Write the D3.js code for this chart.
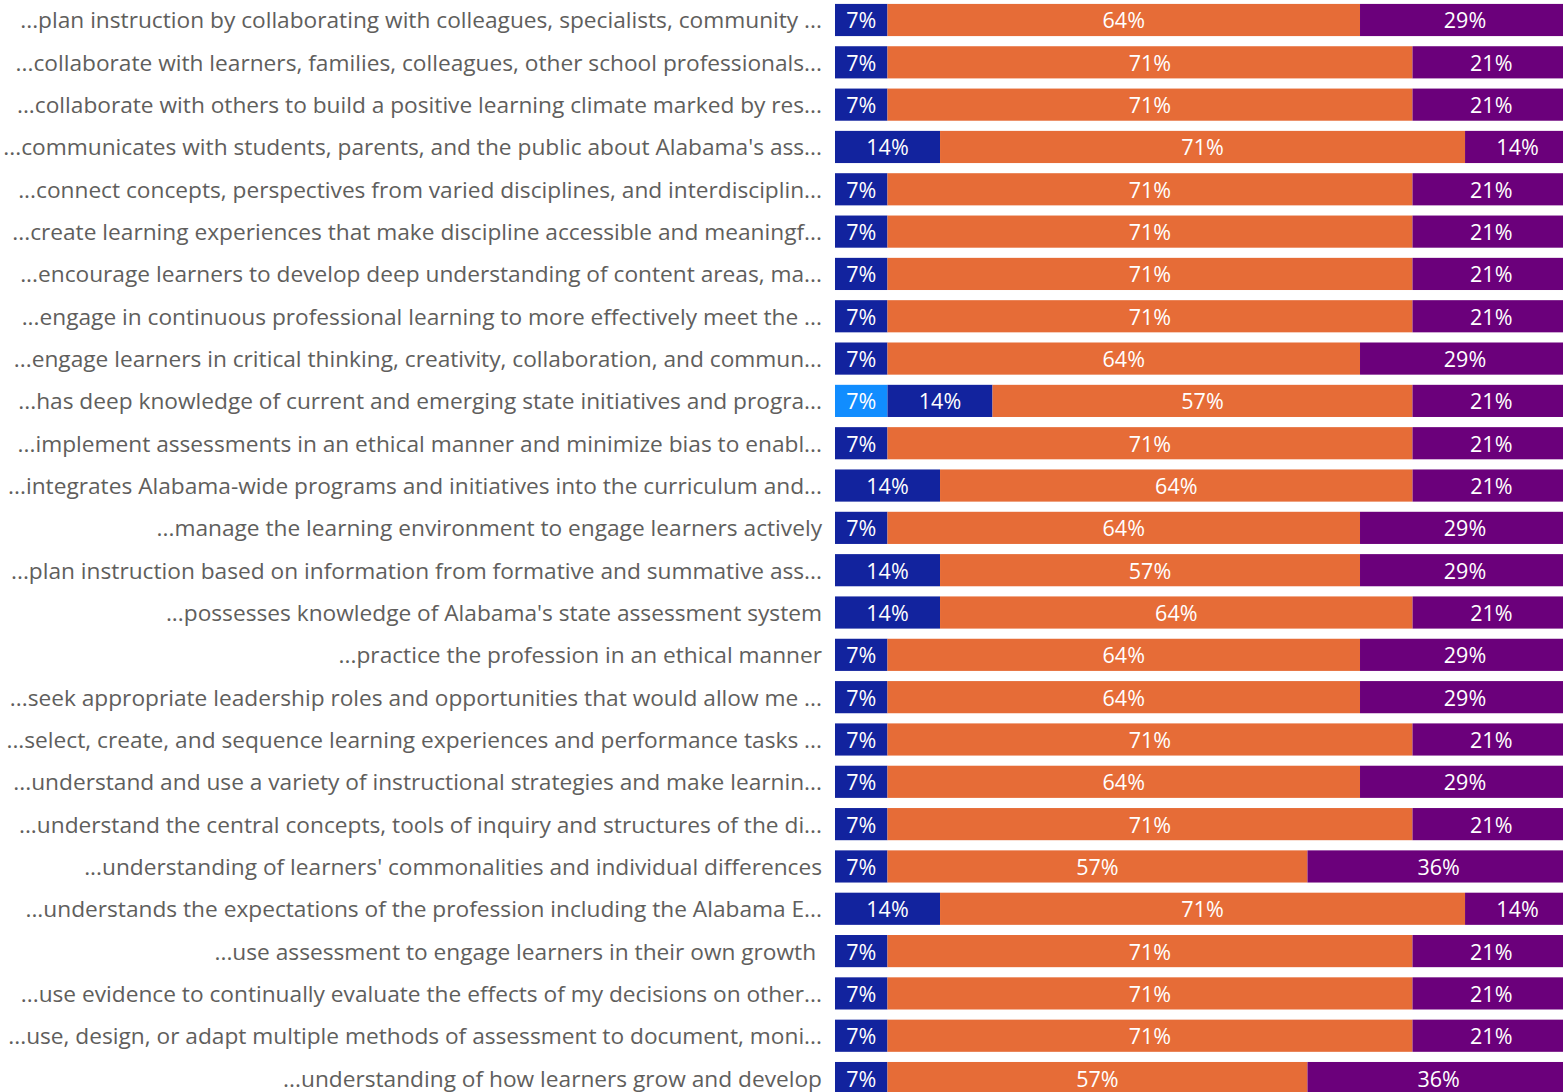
<!DOCTYPE html>
<html><head><meta charset="utf-8">
<script src="https://cdn.jsdelivr.net/npm/d3@7"></script>
<style>html,body{margin:0;padding:0;background:#fff;overflow:hidden}</style>
</head><body>
<svg id="c" width="1563" height="1092"></svg>
<script>
const categories = [
"...plan instruction by collaborating with colleagues, specialists, community ...",
"...collaborate with learners, families, colleagues, other school professionals...",
"...collaborate with others to build a positive learning climate marked by res...",
"...communicates with students, parents, and the public about Alabama's ass...",
"...connect concepts, perspectives from varied disciplines, and interdisciplin...",
"...create learning experiences that make discipline accessible and meaningf...",
"...encourage learners to develop deep understanding of content areas, ma...",
"...engage in continuous professional learning to more effectively meet the ...",
"...engage learners in critical thinking, creativity, collaboration, and commun...",
"...has deep knowledge of current and emerging state initiatives and progra...",
"...implement assessments in an ethical manner and minimize bias to enabl...",
"...integrates Alabama-wide programs and initiatives into the curriculum and...",
"...manage the learning environment to engage learners actively",
"...plan instruction based on information from formative and summative ass...",
"...possesses knowledge of Alabama's state assessment system",
"...practice the profession in an ethical manner",
"...seek appropriate leadership roles and opportunities that would allow me ...",
"...select, create, and sequence learning experiences and performance tasks ...",
"...understand and use a variety of instructional strategies and make learnin...",
"...understand the central concepts, tools of inquiry and structures of the di...",
"...understanding of learners' commonalities and individual differences",
"...understands the expectations of the profession including the Alabama E...",
"...use assessment to engage learners in their own growth ",
"...use evidence to continually evaluate the effects of my decisions on other...",
"...use, design, or adapt multiple methods of assessment to document, moni...",
"...understanding of how learners grow and develop"
];
const seriesNames = ["s1","s2","s3","s4"];
const seriesColors = ["#118DFF","#12239E","#E66C37","#6B007B"];
const s1 = [0,0,0,0,0,0,0,0,0,7.14,0,0,0,0,0,0,0,0,0,0,0,0,0,0,0,0];
const s2 = [7.14,7.14,7.14,14.29,7.14,7.14,7.14,7.14,7.14,14.29,7.14,14.29,7.14,14.29,14.29,7.14,7.14,7.14,7.14,7.14,7.14,14.29,7.14,7.14,7.14,7.14];
const s3 = [64.29,71.43,71.43,71.43,71.43,71.43,71.43,71.43,64.29,57.14,71.43,64.29,64.29,57.14,64.29,64.29,64.29,71.43,64.29,71.43,57.14,71.43,71.43,71.43,71.43,57.14];
const s4 = [28.57,21.43,21.43,14.29,21.43,21.43,21.43,21.43,28.57,21.43,21.43,21.43,28.57,28.57,21.43,28.57,28.57,21.43,28.57,21.43,35.71,14.29,21.43,21.43,21.43,35.71];

const rows = categories.map((c,i)=>({cat:c, s1:s1[i], s2:s2[i], s3:s3[i], s4:s4[i]}));
const stack = d3.stack().keys(seriesNames)(rows);

const svg = d3.select("#c");
const x = d3.scaleLinear().domain([0,100]).range([835,1570]);
const y = d3.scaleBand().domain(categories).range([-6.24,1104.3]).padding(0.24);

svg.append("defs").append("clipPath").attr("id","clp")
  .append("rect").attr("x",0).attr("y",0).attr("width",1563).attr("height",1092);

const g = svg.append("g").attr("clip-path","url(#clp)");
stack.forEach((layer,k)=>{
  const lg = g.append("g");
  layer.forEach((d,i)=>{
    const v = d[1]-d[0];
    if (v<=0) return;
    const cat = categories[i];
    lg.append("rect").attr("x",x(d[0])).attr("y",y(cat))
      .attr("width",x(d[1])-x(d[0])).attr("height",y.bandwidth())
      .attr("fill",seriesColors[k]);
    lg.append("text").attr("x",(x(d[0])+x(d[1]))/2).attr("y",y(cat)+y.bandwidth()/2)
      .attr("text-anchor","middle").attr("dominant-baseline","central")
      .attr("fill","#fff").style("font-family","'Open Sans', sans-serif").style("font-size","21.5px")
      .text(Math.round(v)+"%");
  });
});

svg.append("g").selectAll("text").data(categories).join("text")
  .attr("x",822).attr("y",d=>y(d)+y.bandwidth()/2)
  .attr("text-anchor","end").attr("dominant-baseline","central")
  .attr("fill","#605E5C").style("font-family","'Open Sans', sans-serif").style("font-size","22.7px")
  .style("white-space","pre")
  .text(d=>d);
</script>
</body></html>
